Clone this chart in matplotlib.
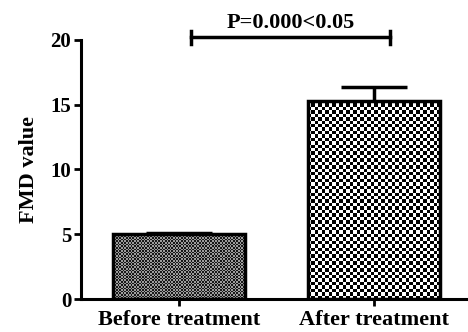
import numpy as np
import matplotlib
matplotlib.use("Agg")
import matplotlib.pyplot as plt

groups = ["Before treatment", "After treatment"]
fmd_mean = [5.0, 15.3]
fmd_err = [0.1, 1.1]
p_label = "P=0.000<0.05"

plt.rcParams["font.family"] = ["Liberation Serif", "DejaVu Serif"]
plt.rcParams["font.weight"] = "bold"

fig = plt.figure(figsize=(4.68, 3.32), dpi=100)
ax = fig.add_axes([0.173, 0.099, 0.827, 0.781])

x = np.arange(len(groups))
width = 0.677
bars = ax.bar(x, fmd_mean, width, facecolor="none", edgecolor="black",
              linewidth=2.5, zorder=3)

# checker textures inside the bars (cell size in px, dark/light grey)
textures = [(1.6, 0.1, 0.62), (3.4, 0.0, 1.0)]
px_per_x = 195.0
px_per_y = 12.95
for b, (cell, lo, hi) in zip(bars, textures):
    x0, w, h = b.get_x(), b.get_width(), b.get_height()
    nx = int(w * px_per_x / cell)
    ny = int(h * px_per_y / cell)
    board = np.add.outer(np.arange(ny), np.arange(nx)) % 2
    board = np.where(board > 0, hi, lo)
    im = ax.imshow(board, cmap="gray", vmin=0, vmax=1, extent=[x0, x0 + w, 0, h],
                   interpolation="nearest", aspect="auto", zorder=2)
    im.set_clip_path(b)

eb = ax.errorbar(x, fmd_mean, yerr=[[0, 0], fmd_err], fmt="none", ecolor="black",
                 elinewidth=2.5, capsize=24, capthick=2.5, zorder=4)
eb[1][0].set_visible(False)

# significance bracket
bx0, bx1, by = 0.06, 1.08, 20.2
ax.plot([bx0, bx1], [by, by], color="black", lw=2.5, clip_on=False)
ax.plot([bx0, bx0], [by - 0.5, by + 0.5], color="black", lw=2.5, clip_on=False)
ax.plot([bx1, bx1], [by - 0.5, by + 0.5], color="black", lw=2.5, clip_on=False)
ax.text((bx0 + bx1) / 2, 21.3, p_label, ha="center", va="center",
        fontsize=16, fontweight="bold", clip_on=False)

ax.set_xlim(-0.503, 1.48)
ax.set_ylim(0, 20)
ax.set_yticks([0, 5, 10, 15, 20])
ax.set_xticks(x)
ax.set_xticklabels(groups, fontsize=16, fontweight="bold")
ax.tick_params(axis="y", labelsize=15, width=2, length=5, pad=2)
ax.tick_params(axis="x", width=2, length=5, pad=2.5)
for lab in ax.get_yticklabels():
    lab.set_fontweight("bold")
ax.set_ylabel("FMD value", fontsize=16, fontweight="bold", labelpad=8)

ax.spines["top"].set_visible(False)
ax.spines["right"].set_visible(False)
ax.spines["left"].set_linewidth(2.2)
ax.spines["bottom"].set_linewidth(2.2)

fig.savefig("out.png", dpi=100)
